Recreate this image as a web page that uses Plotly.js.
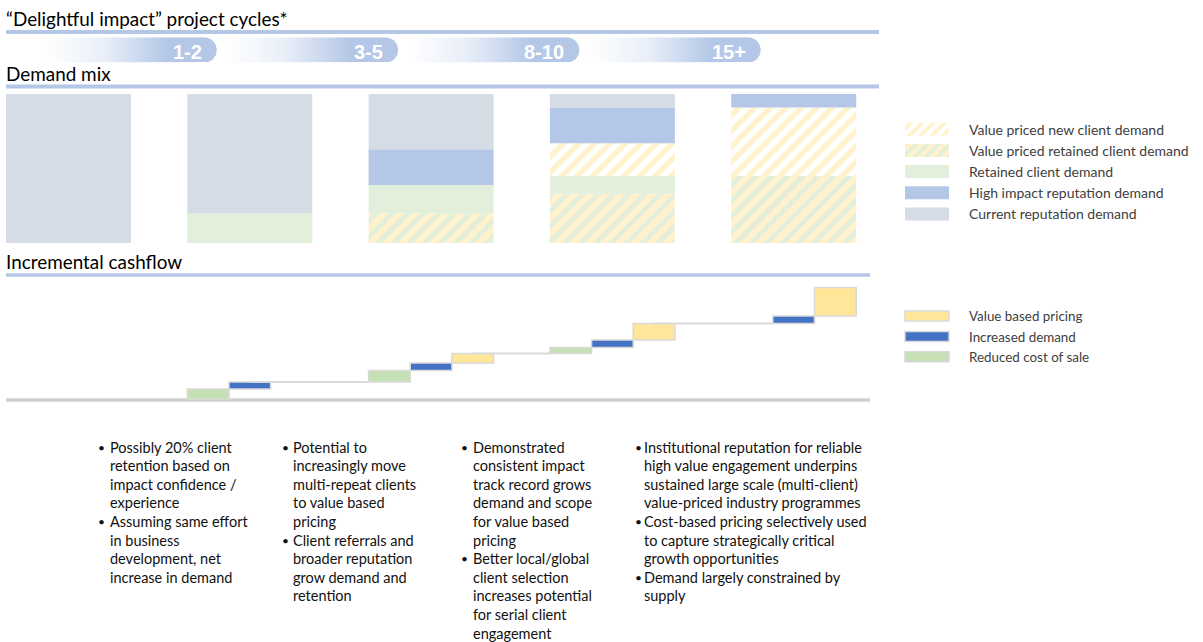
<!DOCTYPE html>
<html><head><meta charset="utf-8">
<script src="https://cdn.plot.ly/plotly-3.0.1.min.js"></script>
<style>html,body{margin:0;padding:0;background:#fff}#chart{width:1203px;height:642px}</style>
</head><body><div id="chart"></div>
<script>
// ---------- DATA ----------
const stages = ["Start", "1-2", "3-5", "8-10", "15+"];
const cycleLabels = ["1-2", "3-5", "8-10", "15+"];

// Demand mix (% of demand), bottom to top of each stack
const vpRetainedDemand = [0, 0, 20, 33, 45];
const retainedDemand   = [0, 20, 19, 12, 0];
const vpNewDemand      = [0, 0, 0, 22, 46];
const highImpactDemand = [0, 0, 24, 24, 9];
const currentDemand    = [100, 80, 37, 9, 0];

// Incremental cashflow steps (relative units)
const reducedCostOfSale = [null, 10.5, 11.5, 6, null];
const increasedDemand   = [null, 7, 7.5, 7.5, 7.5];
const valueBasedPricing = [null, null, 9.5, 16.5, 28.5];

const mixLegend = ["Value priced new client demand", "Value priced retained client demand",
  "Retained client demand", "High impact reputation demand", "Current reputation demand"];
const cashLegend = ["Value based pricing", "Increased demand", "Reduced cost of sale"];

const notes = [
  [["Possibly 20% client", "retention based on", "impact confidence /", "experience"],
   ["Assuming same effort", "in business", "development, net", "increase in demand"]],
  [["Potential to", "increasingly move", "multi-repeat clients", "to value based", "pricing"],
   ["Client referrals and", "broader reputation", "grow demand and", "retention"]],
  [["Demonstrated", "consistent impact", "track record grows", "demand and scope", "for value based", "pricing"],
   ["Better local/global", "client selection", "increases potential", "for serial client", "engagement"]],
  [["Institutional reputation for reliable", "high value engagement underpins", "sustained large scale (multi-client)", "value-priced industry programmes"],
   ["Cost-based pricing selectively used", "to capture strategically critical", "growth opportunities"],
   ["Demand largely constrained by", "supply"]]
];

// ---------- LAYOUT HELPERS ----------
const W = 1203, H = 642;
const px = p => p / W, py = p => 1 - p / H;
const LEFT = 6, RIGHT = 878, CASH_RIGHT = 870;
const COL0 = 68.5, COLSTEP = 181.3;
const xRange = [(LEFT - COL0) / COLSTEP, (RIGHT - COL0) / COLSTEP];
const xDomain = [px(LEFT), px(RIGHT)];
const BARGAP = 1 - 125 / COLSTEP;
const slotW = (1 - BARGAP) / 3;
const FONT = 'Lato, "Open Sans", sans-serif';
const LINE_BLUE = '#B4C7E7';

const traces = [];

// ---------- DEMAND MIX (stacked via base) ----------
const stripeNew = {shape: '/', bgcolor: '#FFFFFF', fgcolor: '#FFF2CC', size: 11, solidity: 0.5};
const stripeRet = {shape: '/', bgcolor: '#E2EFDA', fgcolor: '#FFF2CC', size: 11, solidity: 0.55};
const mixSeries = [
  {name: mixLegend[1], y: vpRetainedDemand, color: '#FFF2CC', pattern: stripeRet, rank: 2},
  {name: mixLegend[2], y: retainedDemand, color: '#E2EFDA', rank: 3},
  {name: mixLegend[0], y: vpNewDemand, color: '#FFF2CC', pattern: stripeNew, rank: 1},
  {name: mixLegend[3], y: highImpactDemand, color: '#B4C7E7', rank: 4},
  {name: mixLegend[4], y: currentDemand, color: '#D6DCE5', rank: 5}
];
let mixBase = stages.map(() => 0);
mixSeries.forEach(s => {
  traces.push({
    type: 'bar', x: stages, y: s.y, base: mixBase.slice(), xaxis: 'x', yaxis: 'y',
    offsetgroup: 'mix', name: s.name, legend: 'legend', legendrank: s.rank,
    marker: Object.assign({color: s.color, line: {width: 0}}, s.pattern ? {pattern: s.pattern} : {}),
    hoverinfo: 'skip'
  });
  mixBase = mixBase.map((b, i) => b + s.y[i]);
});

// ---------- INCREMENTAL CASHFLOW (waterfall from grouped bars) ----------
const cashSeries = [
  {name: cashLegend[2], y: reducedCostOfSale, color: '#C5E0B4', rank: 3},
  {name: cashLegend[1], y: increasedDemand, color: '#4472C4', rank: 2},
  {name: cashLegend[0], y: valueBasedPricing, color: '#FFE699', rank: 1}
];
const bases = cashSeries.map(() => stages.map(() => null));
const colEnd = [], colFirst = [], colLast = [];
let level = 0;
stages.forEach((st, i) => {
  let first = -1, last = -1;
  cashSeries.forEach((s, k) => {
    const v = s.y[i];
    if (v != null) { bases[k][i] = level; level += v; if (first < 0) first = k; last = k; }
  });
  colEnd[i] = level; colFirst[i] = first; colLast[i] = last;
});
cashSeries.forEach((s, k) => {
  traces.push({
    type: 'bar', x: stages, y: s.y, base: bases[k], xaxis: 'x2', yaxis: 'y2',
    name: s.name, legend: 'legend2', legendrank: s.rank,
    marker: {color: s.color, line: {color: '#D9D9D9', width: 1.5}},
    hoverinfo: 'skip'
  });
});
// connectors
const cx = [], cy = [];
const withBars = stages.map((s, i) => i).filter(i => colLast[i] >= 0);
for (let n = 0; n < withBars.length - 1; n++) {
  const i = withBars[n], j = withBars[n + 1];
  cx.push(i + (colLast[i] - 1) * slotW, j + (colFirst[j] - 1) * slotW - slotW / 2, null);
  cy.push(colEnd[i], colEnd[i], null);
}
traces.push({type: 'scatter', mode: 'lines', x: cx, y: cy, xaxis: 'x3', yaxis: 'y2',
  line: {color: '#D9D9D9', width: 2}, showlegend: false, hoverinfo: 'skip'});

// ---------- CYCLE PILLS ----------
const pillAnn = [];
cycleLabels.forEach((lab, n) => {
  const i = n + 1;
  const right = i - 33 / COLSTEP, left = i - 205 / COLSTEP, rx = 12.7 / COLSTEP;
  const xs = [left, right - rx], ys = [0, 0];
  for (let k = 0; k <= 30; k++) {
    const a = -Math.PI / 2 + Math.PI * k / 30;
    xs.push(right - rx + rx * Math.cos(a)); ys.push(0.5 + 0.5 * Math.sin(a));
  }
  xs.push(left, left); ys.push(1, 0);
  traces.push({type: 'scatter', mode: 'lines', x: xs, y: ys, xaxis: 'x4', yaxis: 'y4',
    fill: 'toself', line: {width: 0, color: 'rgba(0,0,0,0)'},
    fillgradient: {type: 'horizontal', colorscale: [[0, 'rgba(180,199,231,0)'], [0.35, 'rgba(180,199,231,0.3)'], [0.72, 'rgba(180,199,231,1)'], [1, 'rgba(180,199,231,1)']]},
    showlegend: false, hoverinfo: 'skip'});
  pillAnn.push({xref: 'x4', yref: 'paper', x: i - 46 / COLSTEP, y: py(52), xanchor: 'right', yanchor: 'middle',
    text: lab, showarrow: false, font: {family: '"Liberation Sans", Arial, sans-serif', size: 20, weight: 700, color: '#FFFFFF'}});
});

// ---------- TEXT ----------
const titleFont = {family: FONT, size: 18.9, color: '#000000'};
const annotations = [
  {text: '\u201CDelightful impact\u201D project cycles*', x: px(4), y: py(18), xanchor: 'left', yanchor: 'middle', xref: 'paper', yref: 'paper', showarrow: false, font: titleFont},
  {text: 'Demand mix', x: px(4), y: py(73.5), xanchor: 'left', yanchor: 'middle', xref: 'paper', yref: 'paper', showarrow: false, font: titleFont},
  {text: 'Incremental cashflow', x: px(4), y: py(261.5), xanchor: 'left', yanchor: 'middle', xref: 'paper', yref: 'paper', showarrow: false, font: titleFont}
].concat(pillAnn);

const bulletX = [96, 280, 459, 633], textX = [108, 291, 471, 642];
const LINE0 = 447, LINE_STEP = 18.6;
const bodyFont = {family: FONT, size: 14.5, color: '#111111'};
const bulletFont = {family: FONT, size: 12, color: '#111111'};
notes.forEach((col, c) => {
  let row = 0;
  col.forEach(item => {
    annotations.push({text: '\u2022', x: px(bulletX[c]), y: py(LINE0 + row * LINE_STEP), xanchor: 'left', yanchor: 'middle',
      xref: 'paper', yref: 'paper', showarrow: false, font: bulletFont});
    item.forEach(line => {
      annotations.push({text: line, x: px(textX[c]), y: py(LINE0 + row * LINE_STEP), xanchor: 'left', yanchor: 'middle',
        xref: 'paper', yref: 'paper', showarrow: false, font: bodyFont});
      row++;
    });
  });
});

// ---------- SHAPES ----------
const shapes = [
  {type: 'line', xref: 'paper', yref: 'paper', x0: px(LEFT), x1: px(879), y0: py(32), y1: py(32), line: {color: LINE_BLUE, width: 4}},
  {type: 'line', xref: 'paper', yref: 'paper', x0: px(LEFT), x1: px(879), y0: py(86.5), y1: py(86.5), line: {color: LINE_BLUE, width: 4}},
  {type: 'line', xref: 'paper', yref: 'paper', x0: px(LEFT), x1: px(CASH_RIGHT), y0: py(275), y1: py(275), line: {color: LINE_BLUE, width: 3.5}},
  {type: 'line', xref: 'paper', yref: 'paper', x0: px(LEFT), x1: px(CASH_RIGHT), y0: py(400), y1: py(400), line: {color: '#D0D0D0', width: 3.5}, layer: 'below'}
];

const hidden = {visible: false, showgrid: false, zeroline: false, fixedrange: true};
const legendBase = {xanchor: 'left', yanchor: 'top', itemwidth: 74, bgcolor: 'rgba(0,0,0,0)', borderwidth: 0,
  traceorder: 'normal', tracegroupgap: 0, itemclick: false, itemdoubleclick: false};

const layout = {
  width: W, height: H, margin: {l: 0, r: 0, t: 0, b: 0},
  paper_bgcolor: '#FFFFFF', plot_bgcolor: 'rgba(0,0,0,0)',
  barmode: 'group', bargap: BARGAP, bargroupgap: 0,
  showlegend: true,
  xaxis: Object.assign({type: 'category', categoryarray: stages, domain: xDomain, range: xRange, anchor: 'y'}, hidden),
  yaxis: Object.assign({domain: [py(243), py(94)], range: [0, 100], anchor: 'x'}, hidden),
  xaxis2: Object.assign({type: 'category', categoryarray: stages, domain: xDomain, range: xRange, anchor: 'y2'}, hidden),
  yaxis2: Object.assign({domain: [py(400), py(280)], range: [-0.5, 119.5], anchor: 'x2'}, hidden),
  xaxis3: Object.assign({type: 'linear', overlaying: 'x2', range: xRange, anchor: 'y2'}, hidden),
  xaxis4: Object.assign({type: 'linear', domain: xDomain, range: xRange, anchor: 'y4'}, hidden),
  yaxis4: Object.assign({domain: [py(62.7), py(37.3)], range: [0, 1], anchor: 'x4'}, hidden),
  legend: Object.assign({x: px(885), y: py(113.6), font: {family: FONT, size: 14, color: '#404040'}}, legendBase),
  legend2: Object.assign({x: px(885), y: py(300.8), font: {family: FONT, size: 13.4, color: '#404040'}}, legendBase),
  annotations: annotations,
  shapes: shapes
};

Plotly.newPlot('chart', traces, layout, {staticPlot: true, displayModeBar: false}).then(gd => {
  gd.querySelectorAll('g.legend .legendpoints path').forEach(p => {
    if ((p.getAttribute('d') || '').indexOf('M6,6H-6V-6H6Z') === 0) p.setAttribute('d', 'M22,6.5H-22V-6.5H22Z');
  });
  gd.querySelectorAll('g.legend2 .legendpoints path').forEach(p => {
    if ((p.getAttribute('d') || '').indexOf('M6,6H-6V-6H6Z') === 0) p.setAttribute('d', 'M22,5H-22V-5H22Z');
  });
});
</script></body></html>
